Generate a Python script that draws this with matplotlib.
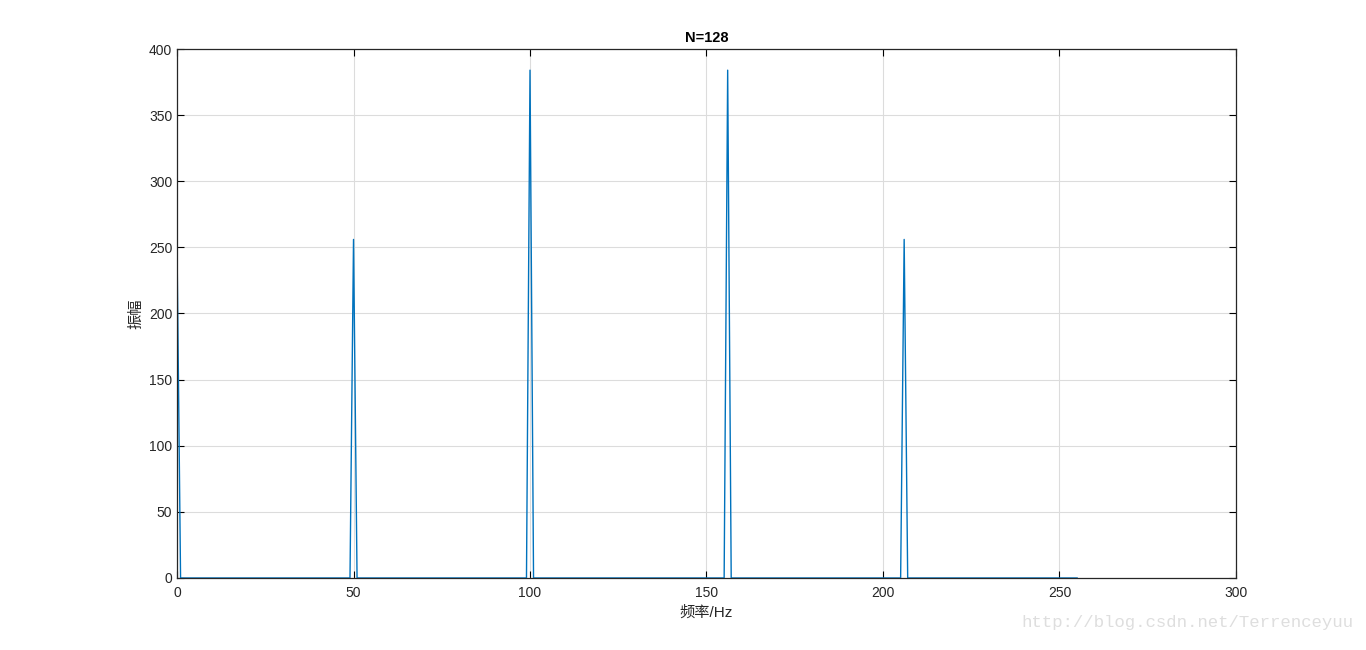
import numpy as np
import matplotlib
matplotlib.use("Agg")
import matplotlib.pyplot as plt

plt.rcParams['font.family'] = ['Liberation Sans', 'Noto Sans CJK SC', 'DejaVu Sans']

# frequency bins, 1 Hz spacing, 0..255 Hz
freqs = np.arange(256)

# spectral peaks
peak_freqs = [0, 50, 100, 156, 206]
peak_amps = [250, 256, 384, 384, 256]

amps = np.zeros(len(freqs))
for f, a in zip(peak_freqs, peak_amps):
    amps[f] = a

fig = plt.figure(figsize=(13.66, 6.5), dpi=100)
ax = fig.add_axes([0.1296, 0.1108, 0.7752, 0.8138])

ax.plot(freqs, amps, color='#0072BD', linewidth=1.0)

ax.set_xlim(0, 300)
ax.set_ylim(0, 400)
ax.set_xticks(np.arange(0, 301, 50))
ax.set_yticks(np.arange(0, 401, 50))
ax.grid(True, color='#dcdcdc', linewidth=0.8)
ax.set_axisbelow(True)
ax.tick_params(direction='in', top=True, right=True, labelsize=10, length=5, width=0.8,
               labelcolor='#262626')
ax.tick_params(axis='x', pad=6)
for s in ax.spines.values():
    s.set_linewidth(0.9)
    s.set_color('#262626')

ax.set_title('N=128', fontsize=10.5, fontweight='bold', pad=5)
ax.set_xlabel('频率/Hz', fontsize=11, labelpad=4, color='#262626')
ax.set_ylabel('振幅', fontsize=11, labelpad=4, color='#262626')

fig.text(0.991, 0.030, 'http://blog.csdn.net/Terrenceyuu', ha='right', va='bottom',
         fontsize=12.5, color='#dedede', family=['Liberation Mono', 'DejaVu Sans Mono'])

fig.savefig('out.png', dpi=100, facecolor='white')
